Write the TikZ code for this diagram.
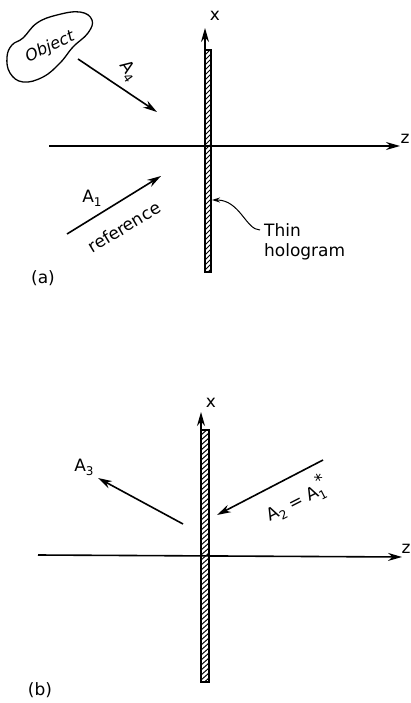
\documentclass[tikz,border=0pt]{standalone}
\usepackage{fontspec}
\setmainfont{DejaVu Sans}
\usetikzlibrary{arrows.meta}
\newcommand{\lowsub}[1]{\raisebox{-0.45ex}{\fontsize{12}{13}\selectfont #1}}
\tikzset{
  axis/.style={->},
  beam/.style={->},
  slab/.style={draw,line width=1.3pt},
  hatch/.style={line width=1pt},
}
\begin{document}
\begin{tikzpicture}[x=1pt,y=-1pt,>={Stealth[length=14pt,width=8pt]},line width=1.6pt,font=\fontsize{17}{20}\selectfont]
  \useasboundingbox (0,0) rectangle (410,703);

  % (a) recording
  \coordinate (Za) at (49,146);
  \coordinate (Za') at (400,146);
  \coordinate (Xa) at (205,272);
  \coordinate (Xa') at (205,28);
  \coordinate (Ha) at (205,50);
  \coordinate (Ha') at (211,272);

  \begin{scope}
    \clip (Ha) rectangle (Ha');
    \foreach \y in {50,55,...,280}
      \draw[hatch] (205,\y) -- (211,\y-6);
  \end{scope}
  \draw[slab] (Ha) rectangle (Ha');
  \draw[axis] (Za) -- (Za');
  \draw[axis] (Xa) -- (Xa');
  \node[inner sep=0] (xa) at (215,16) {x};
  \node[inner sep=0] (za) at (405,139) {z};

  \draw[line width=1.3pt] (7,57) plot[smooth cycle,tension=0.7] coordinates {(7,57) (12,45) (23,38) (37,23) (57,15) (80,12) (92,20) (88,33) (73,47) (60,63) (43,77) (23,82) (10,73)};
  \node[rotate=25,font=\fontsize{16}{19}\selectfont\itshape] (obj) at (50,47) {Object};

  \coordinate (A4s) at (78,59);
  \coordinate (A4e) at (157,112);
  \draw[beam] (A4s) -- (A4e);
  \node[rotate=-55] (a4) at (128,71) {A\lowsub{4}};

  \coordinate (A1s) at (67,234);
  \coordinate (A1e) at (161,176);
  \draw[beam] (A1s) -- (A1e);
  \node (a1) at (92,198) {A\lowsub{1}};
  \node[rotate=31] (ref) at (124,227) {reference};

  \node[anchor=west] (thin) at (260,230) {Thin};
  \node[anchor=west] (holo) at (260,252) {hologram};
  \draw[->,line width=1pt,>={Stealth[length=8pt,width=5pt]}] (thin.west) .. controls (246,230) and (240,200) .. (212,200);

  \node (la) at (43,278) {(a)};

  % (b) reconstruction
  \coordinate (Zb) at (38,555);
  \coordinate (Zb') at (402,557);
  \coordinate (Xb) at (201,682);
  \coordinate (Xb') at (201,412);
  \coordinate (Hb) at (201,430);
  \coordinate (Hb') at (209,682);

  \begin{scope}
    \clip (Hb) rectangle (Hb');
    \foreach \y in {430,435,...,690}
      \draw[hatch] (201,\y) -- (209,\y-7);
  \end{scope}
  \draw[slab] (Hb) rectangle (Hb');
  \draw[axis] (Zb) -- (Zb');
  \draw[axis] (Xb) -- (Xb');
  \node[inner sep=0] (xb) at (211,403) {x};
  \node[inner sep=0] (zb) at (406,549) {z};

  \coordinate (A3s) at (183,524);
  \coordinate (A3e) at (98,478);
  \draw[beam] (A3s) -- (A3e);
  \node (a3) at (84,467) {A\lowsub{3}};

  \coordinate (A2s) at (323,460);
  \coordinate (A2e) at (217,515);
  \draw[beam] (A2s) -- (A2e);
  \node[rotate=27] (a2) at (296,499) {A\lowsub{2} = A\lowsub{1}\raisebox{0.9ex}{\kern-0.3em*}};

  \node (lb) at (40,690) {(b)};
\end{tikzpicture}
\end{document}
